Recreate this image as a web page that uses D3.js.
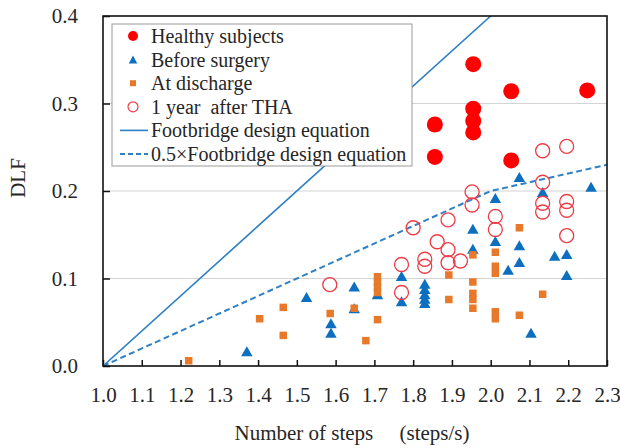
<!DOCTYPE html>
<html>
<head>
<meta charset="utf-8">
<script src="https://cdn.jsdelivr.net/npm/d3@7"></script>
<style>
  html, body { margin: 0; padding: 0; background: #fff; }
  svg text { font-family: "Liberation Serif", "DejaVu Serif", serif; fill: #262626; }
</style>
</head>
<body>
<svg id="chart" width="620" height="448"></svg>
<script>
// Step frequency (steps/s) and dynamic load factor for each group
const healthyX = [1.856, 1.856, 1.955, 1.955, 1.955, 1.955, 2.053, 2.053, 2.249];
const healthyY = [0.276, 0.239, 0.345, 0.294, 0.280, 0.267, 0.314, 0.235, 0.315];

const beforeX = [1.371, 1.525, 1.588, 1.588, 1.648, 1.648, 1.708, 1.770, 1.770,
                 1.830, 1.830, 1.830, 1.830, 1.830, 1.954, 1.954, 2.012, 2.012,
                 2.045, 2.074, 2.074, 2.074, 2.104, 2.134, 2.165, 2.196, 2.196, 2.259];
const beforeY = [0.017, 0.079, 0.049, 0.038, 0.091, 0.066, 0.082, 0.103, 0.074,
                 0.094, 0.088, 0.082, 0.077, 0.072, 0.157, 0.134, 0.192, 0.143,
                 0.110, 0.216, 0.138, 0.119, 0.038, 0.199, 0.126, 0.128, 0.104, 0.205];

const dischargeX = [1.221, 1.404, 1.465, 1.465, 1.586, 1.648, 1.708, 1.708, 1.708,
                    1.708, 1.708, 1.678, 1.892, 1.892, 1.954, 1.954, 1.954, 1.954,
                    1.954, 2.012, 2.012, 2.012, 2.012, 2.012, 2.074, 2.074, 2.134];
const dischargeY = [0.006, 0.054, 0.067, 0.035, 0.060, 0.066, 0.102, 0.096, 0.090,
                    0.084, 0.053, 0.029, 0.104, 0.076, 0.127, 0.096, 0.083, 0.076,
                    0.066, 0.130, 0.114, 0.106, 0.062, 0.054, 0.158, 0.058, 0.082];

const yearX = [1.585, 1.770, 1.770, 1.800, 1.830, 1.830, 1.862, 1.890, 1.890, 1.890,
               1.922, 1.952, 1.952, 2.012, 2.012, 2.134, 2.134, 2.134, 2.134,
               2.196, 2.196, 2.196, 2.196];
const yearY = [0.093, 0.116, 0.084, 0.158, 0.122, 0.114, 0.142, 0.167, 0.133, 0.118,
               0.120, 0.199, 0.184, 0.171, 0.156, 0.246, 0.210, 0.186, 0.176,
               0.251, 0.188, 0.178, 0.149];

// Design curves
const designX = [1.0, 2.0, 2.3];
const designY = [0.0, 0.4, 0.46];
const halfDesignY = [0.0, 0.2, 0.23];

const xTicks = [1.0, 1.1, 1.2, 1.3, 1.4, 1.5, 1.6, 1.7, 1.8, 1.9, 2.0, 2.1, 2.2, 2.3];
const yTicks = [0.0, 0.1, 0.2, 0.3, 0.4];
const legendLabels = ["Healthy subjects", "Before surgery", "At discharge",
                      "1 year  after THA", "Footbridge design equation",
                      "0.5\u00d7Footbridge design equation"];

const RED = "#ff0000", BLUE = "#0d6fbf", ORANGE = "#e8782a", PINK = "#ee3c46", LINE = "#2f80c4";
const SERIF = '"Liberation Serif", "DejaVu Serif", serif';

const svg = d3.select("#chart");
const plotL = 103, plotR = 607, plotT = 16, plotB = 366;

const x = d3.scaleLinear().domain([1.0, 2.3]).range([plotL, plotR]);
const y = d3.scaleLinear().domain([0, 0.4]).range([plotB, plotT]);

// grid
svg.append("g").selectAll("line")
  .data(yTicks.filter(v => v > 0 && v < 0.4))
  .join("line")
  .attr("x1", plotL).attr("x2", plotR)
  .attr("y1", d => y(d)).attr("y2", d => y(d))
  .attr("stroke", "#d4d4d4").attr("stroke-width", 1.2);

// axes with inward ticks
const xAxis = svg.append("g").attr("transform", `translate(0,${plotB})`)
  .call(d3.axisBottom(x).tickValues(xTicks).tickFormat(d3.format(".1f")).tickSizeInner(-6).tickSizeOuter(0).tickPadding(21));
const yAxis = svg.append("g").attr("transform", `translate(${plotL},0)`)
  .call(d3.axisLeft(y).tickValues(yTicks).tickFormat(d3.format(".1f")).tickSizeInner(-7).tickSizeOuter(0).tickPadding(25));
[xAxis, yAxis].forEach(a => {
  a.attr("font-family", SERIF);
  a.select(".domain").remove();
  a.selectAll(".tick line").attr("stroke", "#111").attr("stroke-width", 1.5);
  a.selectAll(".tick text").attr("font-size", 21).attr("fill", "#262626")
    .attr("font-family", SERIF);
});

// clip for curves
svg.append("clipPath").attr("id", "plotClip")
  .append("rect").attr("x", plotL).attr("y", plotT).attr("width", plotR - plotL).attr("height", plotB - plotT);

const curve = d3.line().x(d => x(d[0])).y(d => y(d[1]));
const curves = svg.append("g").attr("clip-path", "url(#plotClip)");
curves.append("path").datum(designX.map((v, i) => [v, designY[i]]))
  .attr("d", curve).attr("fill", "none").attr("stroke", LINE).attr("stroke-width", 1.6);
curves.append("path").datum(designX.map((v, i) => [v, halfDesignY[i]]))
  .attr("d", curve).attr("fill", "none").attr("stroke", LINE).attr("stroke-width", 2)
  .attr("stroke-dasharray", "6,3.5");

// marker shapes
const tri = (w, h) => `M0,${-h / 2}L${w / 2},${h / 2}L${-w / 2},${h / 2}Z`;
const sq = s => `M${-s / 2},${-s / 2}h${s}v${s}h${-s}Z`;

const pts = svg.append("g");
pts.selectAll(".healthy").data(healthyX.map((v, i) => [v, healthyY[i]])).join("circle")
  .attr("cx", d => x(d[0])).attr("cy", d => y(d[1])).attr("r", 8).attr("fill", RED);
pts.selectAll(".before").data(beforeX.map((v, i) => [v, beforeY[i]])).join("path")
  .attr("transform", d => `translate(${x(d[0])},${y(d[1])})`).attr("d", tri(11.5, 10)).attr("fill", BLUE);
pts.selectAll(".discharge").data(dischargeX.map((v, i) => [v, dischargeY[i]])).join("path")
  .attr("transform", d => `translate(${x(d[0])},${y(d[1])})`).attr("d", sq(7.5)).attr("fill", ORANGE);
pts.selectAll(".year").data(yearX.map((v, i) => [v, yearY[i]])).join("circle")
  .attr("cx", d => x(d[0])).attr("cy", d => y(d[1])).attr("r", 7).attr("fill", "none")
  .attr("stroke", PINK).attr("stroke-width", 1.3);

// frame
svg.append("rect").attr("x", plotL).attr("y", plotT).attr("width", plotR - plotL).attr("height", plotB - plotT)
  .attr("fill", "none").attr("stroke", "#111").attr("stroke-width", 1.6);

// legend
const lg = svg.append("g");
lg.append("rect").attr("x", 112).attr("y", 24).attr("width", 300).attr("height", 142)
  .attr("fill", "#fff").attr("stroke", "#9a9a9a").attr("stroke-width", 1);
const rowY = i => 36 + i * 23.6;
const mx = 133;
lg.append("circle").attr("cx", mx).attr("cy", rowY(0)).attr("r", 5).attr("fill", RED);
lg.append("path").attr("transform", `translate(${mx},${rowY(1)})`).attr("d", tri(8.5, 8)).attr("fill", BLUE);
lg.append("path").attr("transform", `translate(${mx},${rowY(2)})`).attr("d", sq(6)).attr("fill", ORANGE);
lg.append("circle").attr("cx", mx).attr("cy", rowY(3)).attr("r", 5).attr("fill", "none")
  .attr("stroke", PINK).attr("stroke-width", 1.2);
lg.append("line").attr("x1", 120).attr("x2", 148).attr("y1", rowY(4)).attr("y2", rowY(4))
  .attr("stroke", LINE).attr("stroke-width", 1.6);
lg.append("line").attr("x1", 120).attr("x2", 148).attr("y1", rowY(5)).attr("y2", rowY(5))
  .attr("stroke", LINE).attr("stroke-width", 2).attr("stroke-dasharray", "5,3");
lg.selectAll("text.lbl").data(legendLabels).join("text")
  .attr("x", 151).attr("y", (d, i) => rowY(i)).attr("dy", "0.35em")
  .attr("font-family", SERIF).attr("font-size", 20).style("white-space", "pre").text(d => d);

// axis titles
svg.append("text").attr("x", 352).attr("y", 433).attr("dy", "0.35em").attr("text-anchor", "middle")
  .attr("font-family", SERIF).attr("font-size", 21).style("white-space", "pre")
  .text("Number of steps\u2003 (steps/s)");
svg.append("text").attr("transform", "translate(18,178) rotate(-90)").attr("dy", "0.35em")
  .attr("text-anchor", "middle").attr("font-family", SERIF).attr("font-size", 21).text("DLF");
</script>
</body>
</html>
